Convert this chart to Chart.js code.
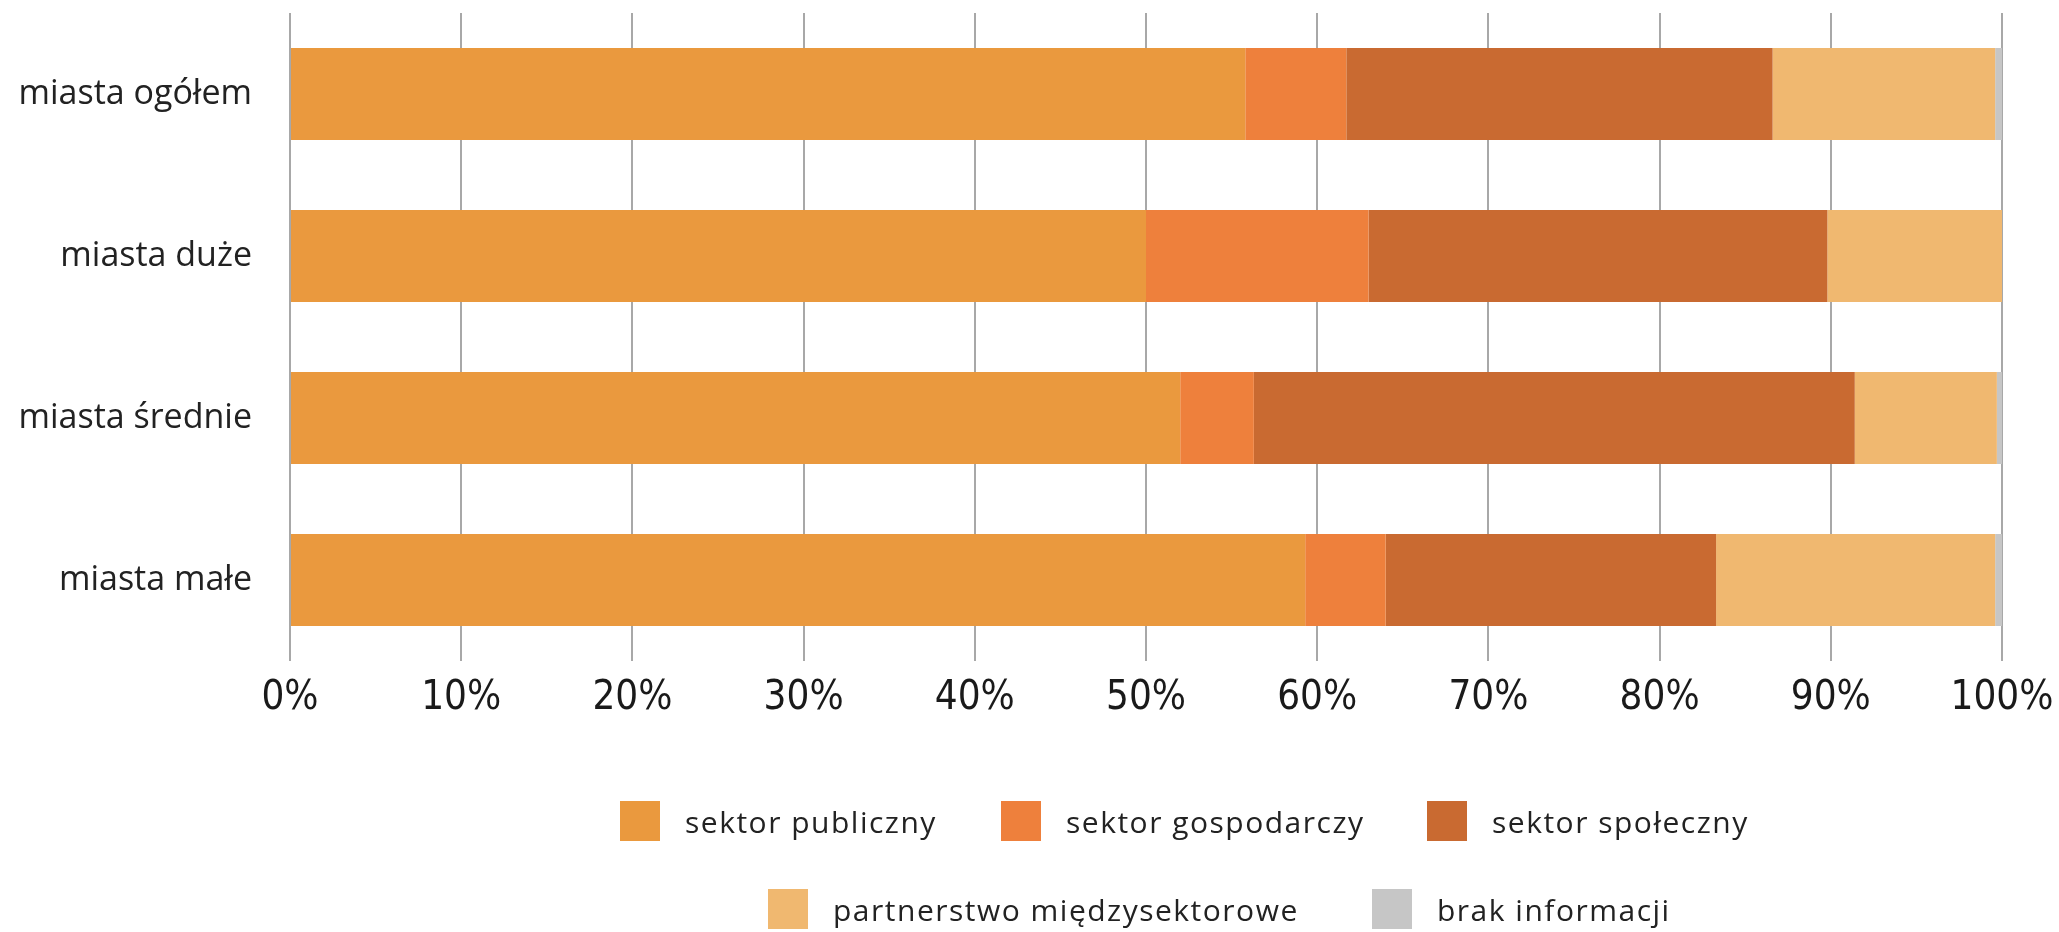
<!DOCTYPE html>
<html>
<head>
<meta charset="utf-8">
<script src="https://cdn.jsdelivr.net/npm/chart.js@4/dist/chart.umd.min.js"></script>
<style>
  html, body { margin: 0; padding: 0; background: #ffffff; }
  #wrap { position: relative; width: 2059px; height: 932px; overflow: hidden; }
  #c { position: absolute; left: 0; top: 0; }
  .lg { position: absolute; display: flex; align-items: center; height: 40px;
        font-family: "Open Sans", sans-serif; font-size: 30px; letter-spacing: 1.5px; color: #222; white-space: nowrap; }
  .lg .bx { width: 40px; height: 40px; margin-right: 25px; }
</style>
</head>
<body>
<div id="wrap">
  <canvas id="c" width="2059" height="932"></canvas>
</div>
<script>
const categories = ["miasta ogółem", "miasta duże", "miasta średnie", "miasta małe"];
const seriesNames = ["sektor publiczny", "sektor gospodarczy", "sektor społeczny", "partnerstwo międzysektorowe", "brak informacji"];
const sektorPubliczny   = [55.8, 50.0, 52.0, 59.3];
const sektorGospodarczy = [5.9, 13.0, 4.3, 4.7];
const sektorSpoleczny   = [24.9, 26.8, 35.1, 19.3];
const partnerstwo       = [13.0, 10.2, 8.3, 16.3];
const brakInformacji    = [0.4, 0.0, 0.3, 0.4];
const tickValues = [0, 10, 20, 30, 40, 50, 60, 70, 80, 90, 100];
const colors = ["#EA993E", "#EE803C", "#C96A31", "#F0B870", "#C6C6C6"];

const seriesValues = [sektorPubliczny, sektorGospodarczy, sektorSpoleczny, partnerstwo, brakInformacji];

const datasets = seriesNames.map((name, i) => ({
  label: name,
  data: seriesValues[i],
  backgroundColor: colors[i],
  borderWidth: 0,
  barPercentage: 0.568,
  categoryPercentage: 1.0
}));

new Chart(document.getElementById("c"), {
  type: "bar",
  data: { labels: categories, datasets: datasets },
  options: {
    indexAxis: "y",
    responsive: false,
    animation: false,
    devicePixelRatio: 1,
    layout: { padding: { top: 13, right: 57, left: 0, bottom: 0 } },
    plugins: { legend: { display: false }, tooltip: { enabled: false } },
    scales: {
      x: {
        stacked: true,
        min: 0, max: 100,
        afterBuildTicks: (s) => { s.ticks = tickValues.map(v => ({ value: v })); },
        afterFit: (s) => { s.height = 271; s.paddingLeft = 0; s.paddingRight = 0; },
        grid: { color: "#A8A8A8", lineWidth: 2, drawTicks: false },
        border: { display: false },
        ticks: {
          padding: 14,
          color: "#1a1a1a",
          font: { family: "'Liberation Sans Narrow', 'DejaVu Sans Condensed', sans-serif", size: 40 },
          callback: (v) => v + "%"
        }
      },
      y: {
        stacked: true,
        afterFit: (s) => { s.width = 290; s.paddingTop = 0; s.paddingBottom = 0; },
        grid: { display: false },
        border: { display: false },
        ticks: {
          padding: 30,
          color: "#222",
          font: { family: "'Open Sans', sans-serif", size: 34 }
        }
      }
    }
  }
});

// legend built from the series names and colours
const legendPos = [[620, 801], [1001, 801], [1427, 801], [768, 889], [1372, 889]];
const wrap = document.getElementById("wrap");
seriesNames.forEach((name, i) => {
  const d = document.createElement("div");
  d.className = "lg";
  d.style.left = legendPos[i][0] + "px";
  d.style.top = legendPos[i][1] + "px";
  const b = document.createElement("span");
  b.className = "bx";
  b.style.background = colors[i];
  const t = document.createElement("span");
  t.textContent = name;
  d.appendChild(b); d.appendChild(t);
  wrap.appendChild(d);
});
</script>
</body>
</html>
